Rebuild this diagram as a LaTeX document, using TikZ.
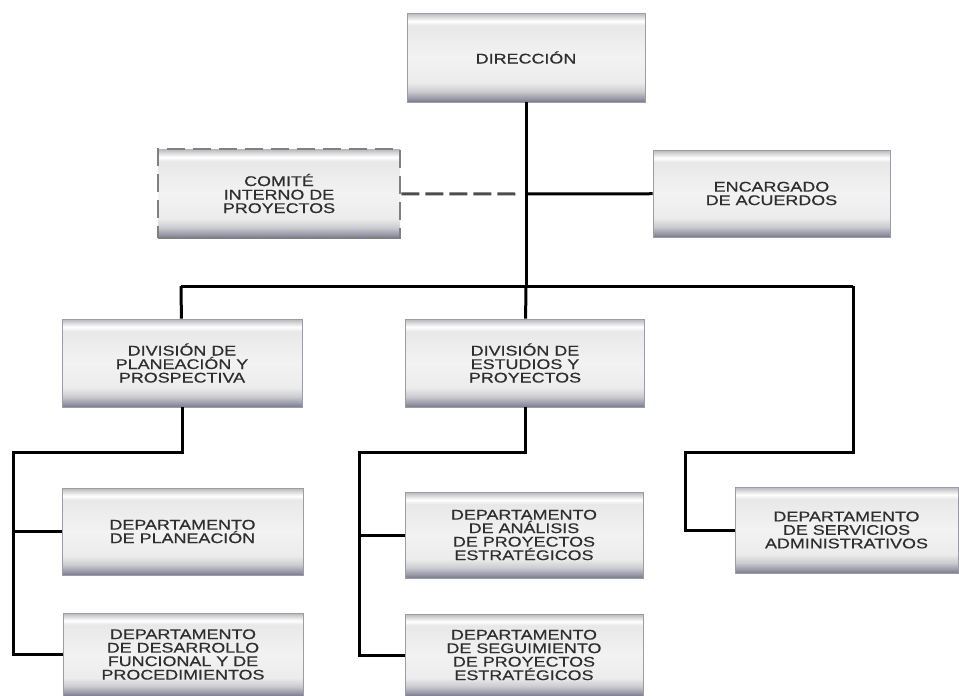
\documentclass[tikz,border=0pt]{standalone}
\usepackage{fontspec}
\newfontfamily\orgfont[FakeStretch=1.28,FakeBold=0.6]{Liberation Sans}
\definecolor{boxedge}{HTML}{9A9DA6}
\definecolor{boxtext}{HTML}{2E2E2E}
\definecolor{dashedge}{HTML}{808080}
\pgfdeclareverticalshading{boxshade}{100bp}{%
  color(0bp)=(black!40!blue!10!gray!90);
  color(25bp)=(black!10!blue!10!gray!95);
  color(27bp)=(blue!8!gray!75);
  color(31bp)=(blue!5!gray!38);
  color(36bp)=(gray!15);
  color(50bp)=(gray!10);
  color(68bp)=(gray!18);
  color(70.5bp)=(white);
  color(72.5bp)=(gray!25);
  color(75bp)=(blue!5!gray!55);
  color(100bp)=(blue!5!gray!55)}
\usetikzlibrary{positioning}

\begin{document}
\begin{tikzpicture}[x=1pt,y=-1pt,
	unit/.style={rectangle,draw=boxedge,line width=0.8pt,shading=boxshade,
		text=boxtext,align=center,inner sep=0pt,
		font=\orgfont\fontsize{14}{13.5}\selectfont},
	link/.style={line width=3pt,black},
	dashlink/.style={line width=3pt,black!70,dash pattern=on 18pt off 6pt}]
		\useasboundingbox (0,0) rectangle (959,696);
		% top level
		\node[unit,minimum width=238,minimum height=89] (dir) at (526,57.5) {DIRECCIÓN};
		\node[unit,minimum width=242,minimum height=89,draw=dashedge,line width=2.5pt,
			dash pattern=on 18pt off 8pt] (comite) at (279,193.5) {COMITÉ\\INTERNO DE\\PROYECTOS};
		\node[unit,minimum width=237,minimum height=87] (acuerdos) at (771.5,193.5) {ENCARGADO\\DE ACUERDOS};
		% divisiones
		\node[unit,minimum width=240,minimum height=88] (divplan) at (182,363) {DIVISIÓN DE\\PLANEACIÓN Y\\PROSPECTIVA};
		\node[unit,minimum width=239,minimum height=88] (divest) at (525,363) {DIVISIÓN DE\\ESTUDIOS Y\\PROYECTOS};
		% departamentos
		\node[unit,minimum width=241,minimum height=87] (deppla) at (182.5,531.5) {DEPARTAMENTO\\DE PLANEACIÓN};
		\node[unit,minimum width=240,minimum height=83] (depdes) at (183,654.5) {DEPARTAMENTO\\DE DESARROLLO\\FUNCIONAL Y DE\\PROCEDIMIENTOS};
		\node[unit,minimum width=238,minimum height=86] (depana) at (524,535) {DEPARTAMENTO\\DE ANÁLISIS\\DE PROYECTOS\\ESTRATÉGICOS};
		\node[unit,minimum width=238,minimum height=82] (depseg) at (524,655) {DEPARTAMENTO\\DE SEGUIMIENTO\\DE PROYECTOS\\ESTRATÉGICOS};
		\node[unit,minimum width=223,minimum height=86] (depser) at (846.5,530) {DEPARTAMENTO\\DE SERVICIOS\\ADMINISTRATIVOS};
		% junctions
		\coordinate (mid) at (526,194);
		\coordinate (dashend) at (515.5,194);
		\coordinate (hub) at (526,286);
		\coordinate (lefthub) at (181,286);
		\coordinate (righthub) at (853,286);
		\coordinate (planbend) at (13,452);
		\coordinate (estbend) at (359,452);
		\coordinate (serbend) at (685,452);
		% connectors
		\draw[link] (dir) -- (hub);
		\draw[link] (acuerdos) -- (mid);
		\draw[dashlink] (comite) -- (dashend);
		\draw[link] (lefthub) -- (righthub);
		\draw[link] (lefthub) -- (divplan);
		\draw[link] (hub) -- (divest);
		\draw[link] (righthub) |- (serbend) |- (depser.west);
		\draw[link] (divplan) |- (planbend) |- (depdes.west);
		\draw[link] (planbend) |- (deppla.west);
		\draw[link] (divest) |- (estbend) |- (depseg.west);
		\draw[link] (estbend) |- (depana.west);
		\end{tikzpicture}
\end{document}
